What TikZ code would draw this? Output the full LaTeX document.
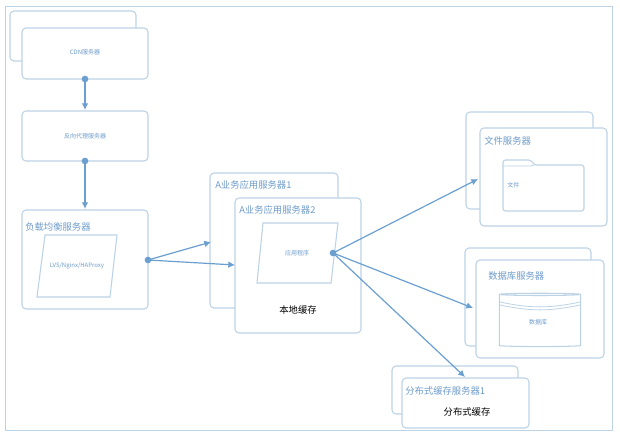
\documentclass[tikz,border=0pt]{standalone}
\usepackage{fontspec}
\setmainfont{Noto Sans CJK SC}
\usepackage{tikz}
\usetikzlibrary{positioning,shapes.geometric,arrows.meta}
\definecolor{xboxline}{HTML}{BCD3E6}
\definecolor{xarrow}{HTML}{6A9FD0}
\definecolor{xtext}{HTML}{6E9CCB}
\begin{document}
\begin{tikzpicture}[x=0.75pt,y=-0.75pt,
	boxstyle/.style={draw=xboxline,fill=white,rounded corners=3pt,line width=.8pt},
	linestyle/.style={-{Latex[length=5pt,width=5pt]},draw=xarrow,line width=.9pt},
	dotstyle/.style={circle,fill=xarrow,inner sep=0pt,minimum size=5pt},
	titlestyle/.style={anchor=west,text=xtext,font=\fontsize{7}{8}\selectfont,inner sep=0pt},
	smallstyle/.style={text=xtext,font=\fontsize{4.5}{5}\selectfont,inner sep=0pt},
	shapestyle/.style={draw=xboxline,line width=.8pt}]
	\useasboundingbox (0,0) rectangle (620,438);
	\draw[xboxline,line width=.6pt] (5,6) rectangle (612,430);
	% CDN
	\draw[boxstyle] (10,11) rectangle (136,61);
	\draw[boxstyle] (22,28) rectangle (148,79);
	\node[smallstyle] (cdn) at (85,52) {CDN服务器};
	\draw[boxstyle] (22,111) rectangle (148,161);
	\node[smallstyle] (proxy) at (85,136) {反向代理服务器};
	% load balancer
	\draw[boxstyle] (22,210) rectangle (148,309);
	\node[titlestyle] (lbtitle) at (25,227) {负载均衡服务器};
	\draw[shapestyle] (45,235) -- (117,235) -- (110,297) -- (37,297) -- cycle;
	\node[smallstyle] (lvs) at (77,266) {LVS/Nginx/HAProxy};
	% app servers
	\draw[boxstyle] (210,173) rectangle (338,308);
	\node[titlestyle] (app1) at (215,185) {A业务应用服务器1};
	\draw[boxstyle] (235,198) rectangle (361,333);
	\node[titlestyle] (app2) at (239,210) {A业务应用服务器2};
	\draw[shapestyle] (263,223) -- (338,223) -- (331,283) -- (257,283) -- cycle;
	\node[smallstyle] (prog) at (297,253) {应用程序};
	\node[font=\fontsize{7}{8}\selectfont,inner sep=0pt] (local) at (298,310) {本地缓存};
	% file server
	\draw[boxstyle] (466,112) rectangle (593,209);
	\draw[boxstyle] (480,128) rectangle (607,226);
	\node[titlestyle] (file) at (484,141) {文件服务器};
	\draw[shapestyle,rounded corners=2pt] (503,211) -- (503,160) -- (531,160) -- (534,165) -- (584,165) -- (584,211) -- cycle;
	\draw[xboxline,line width=.6pt] (503,166) -- (531,166) -- (534,165);
	\node[smallstyle,anchor=west] (doc) at (507,185) {文件};
	% database
	\draw[boxstyle] (465,248) rectangle (591,346);
	\draw[boxstyle] (476,260) rectangle (604,358);
	\node[titlestyle] (db) at (488,276) {数据库服务器};
	\node[cylinder,shape border rotate=90,draw=xboxline,line width=.8pt,aspect=.25,minimum width=61pt,minimum height=40pt] (cyl) at (540,321) {};
	\draw[xboxline,line width=.6pt] (500,302) to[bend right=12] (580,302);
	\draw[xboxline,line width=.6pt] (500,305) to[bend right=12] (580,305);
	\node[smallstyle] (dbtext) at (538,322) {数据库};
	% distributed cache
	\draw[boxstyle] (392,366) rectangle (518,414);
	\draw[boxstyle] (402,378) rectangle (529,428);
	\node[titlestyle] (cache) at (405,391) {分布式缓存服务器1};
	\node[font=\fontsize{7}{8}\selectfont,inner sep=0pt] (dcache) at (467,412) {分布式缓存};
	% connectors
	\node[dotstyle] (d1) at (85,79) {};
	\node[dotstyle] (d2) at (85,161) {};
	\node[dotstyle] (d3) at (148,260) {};
	\node[dotstyle] (d4) at (333,253) {};
	\coordinate (e1) at (85,110);
	\coordinate (e2) at (85,209);
	\coordinate (e3) at (211,242);
	\coordinate (e4) at (235,265);
	\coordinate (e5) at (478,179);
	\coordinate (e6) at (473,308);
	\coordinate (e7) at (465,377);
	\draw[linestyle] (d1.center) -- (e1);
	\draw[linestyle] (d2.center) -- (e2);
	\draw[linestyle] (d3.center) -- (e3);
	\draw[linestyle] (d3.center) -- (e4);
	\draw[linestyle] (d4.center) -- (e5);
	\draw[linestyle] (d4.center) -- (e6);
	\draw[linestyle] (d4.center) -- (e7);
\end{tikzpicture}
\end{document}
